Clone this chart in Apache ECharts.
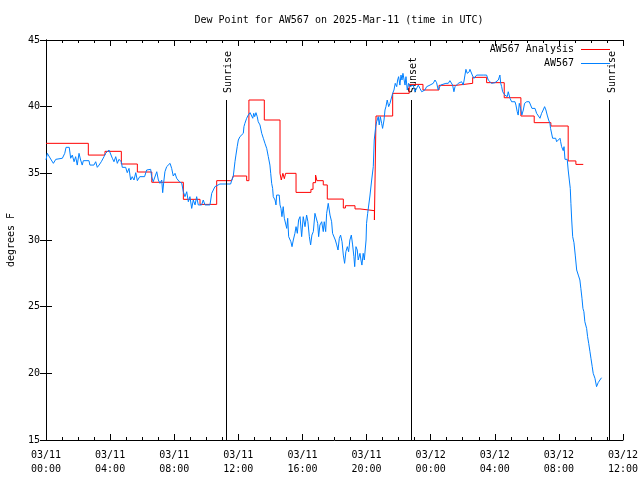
<!DOCTYPE html>
<html><head><meta charset="utf-8">
<script src="https://cdn.jsdelivr.net/npm/echarts@6/dist/echarts.min.js"></script>
<style>html,body{margin:0;padding:0;background:#fff}#c{width:640px;height:480px}</style>
</head><body><div id="c"></div>
<script>
const titleText = 'Dew Point for AW567 on 2025-Mar-11 (time in UTC)';
const tickDates = ['03/11','03/11','03/11','03/11','03/11','03/11','03/12','03/12','03/12','03/12'];
const tickTimes = ['00:00','04:00','08:00','12:00','16:00','20:00','00:00','04:00','08:00','12:00'];
const yTicks = [15,20,25,30,35,40,45];

// hours since 2025-03-11 00:00 UTC
const analysisHours = [0.00,2.64,3.68,4.70,5.70,6.60,8.57,9.61,10.65,11.58,11.68,12.52,12.66,13.62,14.60,14.68,14.78,14.87,14.95,15.60,16.53,16.66,16.82,16.90,17.30,17.55,18.55,18.68,19.28,19.59,20.49,20.59,21.63,22.66,23.52,24.52,25.58,26.62,27.49,28.59,29.63,30.46,31.50,32.58,33.06,33.52];
const analysisValues = [37.25,36.37,36.65,35.7,35.1,34.33,33.05,32.67,34.45,34.6,34.8,34.45,40.5,39.0,35.0,34.5,35.0,34.6,35.0,33.57,33.8,34.3,34.87,34.45,34.13,33.07,32.4,32.57,32.33,32.2,31.5,39.3,41.0,41.67,41.25,41.6,41.75,42.2,41.8,40.67,39.3,38.8,38.55,35.93,35.67,35.67];

const obsHours = [0.00,0.08,0.19,0.33,0.46,0.61,0.70,1.02,1.17,1.25,1.45,1.54,1.64,1.75,1.85,1.95,2.06,2.16,2.26,2.33,2.68,2.74,2.99,3.10,3.20,3.31,3.45,3.62,3.72,3.82,3.93,4.04,4.14,4.24,4.35,4.45,4.55,4.70,4.76,4.97,5.07,5.18,5.28,5.38,5.49,5.60,5.70,5.85,6.15,
6.28,6.53,6.59,6.69,6.91,7.01,7.11,7.22,7.28,7.36,7.42,7.53,7.63,7.74,7.84,7.94,8.05,8.15,8.32,8.47,8.57,8.67,8.78,8.88,8.98,9.09,9.19,9.30,9.40,9.50,9.71,9.81,9.92,10.23,10.34,10.44,10.54,10.65,10.85,11.52,11.58,11.68,11.73,11.79,11.85,11.93,12.00,12.10,12.21,12.31,12.35,12.41,12.52,12.62,12.73,12.83,12.90,12.96,13.02,13.10,13.18,13.24,13.35,13.46,13.56,13.66,13.77,13.87,13.97,14.02,14.08,14.14,14.18,14.29,14.35,14.39,14.55,14.60,14.66,14.72,14.80,14.87,14.95,15.02,15.08,15.14,15.22,15.28,15.35,15.43,15.53,15.60,15.68,15.76,15.85,15.95,16.05,16.16,16.26,16.34,16.43,16.51,16.59,16.68,16.78,16.89,16.95,17.01,17.09,17.20,17.30,17.36,17.45,17.51,17.61,17.72,17.82,17.88,17.97,18.05,18.14,18.22,18.30,18.38,18.47,18.55,18.63,18.71,18.80,18.88,18.96,19.05,19.13,19.21,19.26,19.34,19.42,19.48,19.59,19.65,19.71,19.79,19.86,19.92,19.97,20.00,20.07,20.13,20.21,20.32,20.42,20.48,20.57,20.63,20.73,20.79,20.86,20.94,21.00,21.09,21.15,21.21,21.29,21.38,21.46,21.57,21.63,21.71,21.79,21.88,21.94,22.00,22.08,22.15,22.21,22.27,22.33,22.40,22.46,22.54,22.62,22.71,22.81,22.91,23.02,23.12,23.23,23.33,23.44,23.64,23.75,23.96,24.16,24.27,24.37,24.47,24.54,24.62,24.95,25.10,25.20,25.31,25.37,25.45,25.52,25.62,25.72,25.83,25.93,26.03,26.09,26.14,26.20,26.28,26.41,26.45,26.56,26.62,26.70,26.76,26.87,27.28,27.49,27.59,27.70,27.80,27.90,28.01,28.12,28.22,28.32,28.37,28.43,28.49,28.57,28.63,28.69,28.78,28.84,28.90,28.95,29.05,29.15,29.26,29.32,29.40,29.46,29.53,29.61,29.69,29.78,29.86,29.99,30.15,30.24,30.32,30.40,30.51,30.61,30.71,30.82,30.92,31.02,31.11,31.19,31.27,31.36,31.44,31.48,31.55,31.61,31.80,31.86,31.96,32.07,32.11,32.17,32.24,32.27,32.32,32.38,32.52,32.58,32.65,32.71,32.75,32.80,32.86,32.94,33.02,33.11,33.21,33.31,33.37,33.44,33.50,33.56,33.62,33.73,33.79,33.86,33.94,34.00,34.08,34.14,34.25,34.35,34.45,34.56,34.66];
const obsValues = [36.0,36.5,36.62,36.0,35.75,36.05,36.13,36.13,36.5,36.95,36.95,36.13,36.37,35.87,36.25,35.62,36.5,36.0,35.62,35.95,35.95,35.62,35.62,35.87,35.45,35.62,35.87,36.25,36.5,36.62,36.75,36.87,36.13,35.87,36.25,35.75,36.05,35.87,35.45,35.45,35.05,35.37,34.5,34.75,34.5,35.05,34.45,34.75,34.75,
35.25,35.3,34.75,34.37,35.12,34.5,34.25,34.5,33.55,34.5,35.12,35.5,35.62,35.75,35.37,34.8,35.0,34.63,34.37,34.25,33.62,33.25,33.62,32.87,33.25,32.37,33.0,32.63,33.25,32.63,32.63,33.0,32.63,32.63,33.5,33.62,34.0,34.13,34.2,34.2,34.45,34.75,35.25,35.87,36.37,37.0,37.5,37.75,37.87,38.0,38.5,38.75,39.13,39.37,39.55,39.55,39.13,39.5,39.25,39.55,39.25,38.87,38.63,38.0,37.63,37.25,36.87,36.25,35.62,35.0,34.25,33.87,33.25,33.0,32.63,33.37,33.37,32.63,32.37,31.75,32.5,31.63,31.5,30.87,31.63,30.25,30.25,29.87,29.5,30.0,30.5,31.0,30.5,31.5,31.75,30.25,31.75,31.0,31.87,31.37,30.25,29.63,30.37,30.63,32.0,32.12,31.25,30.25,31.12,31.37,30.63,31.37,30.63,32.0,32.75,31.87,31.37,30.5,30.63,30.0,29.63,29.25,30.12,30.37,29.87,28.87,28.25,29.12,29.5,29.12,30.0,30.37,29.63,28.75,28.0,29.5,29.25,28.5,29.0,28.5,28.12,29.0,28.5,28.5,30.0,31.25,32.0,32.12,33.3,34.5,35.5,37.5,38.5,38.87,39.25,38.63,39.25,38.75,38.37,39.0,39.75,40.0,40.5,40.0,40.25,40.12,41.0,41.25,41.75,41.5,42.0,42.25,41.62,42.37,42.0,42.5,42.62,41.62,42.25,41.25,41.75,41.5,41.37,41.62,41.12,41.12,41.62,41.37,41.12,41.25,41.5,41.62,41.75,42.0,41.8,41.25,41.3,41.62,41.75,41.75,41.95,42.0,41.62,41.12,41.5,41.62,41.75,41.62,41.87,41.62,42.0,42.37,42.8,42.5,42.62,42.8,42.75,42.3,42.12,42.25,42.37,42.37,42.37,42.0,41.87,41.75,41.7,41.8,41.87,42.0,42.37,41.75,41.5,41.12,41.12,40.87,41.0,40.75,41.12,41.0,40.63,40.37,40.25,40.37,40.12,39.62,39.37,40.25,39.87,39.37,39.75,40.25,40.37,40.37,40.25,39.87,39.75,39.87,39.5,39.37,39.13,39.5,39.75,40.0,39.75,39.37,39.0,38.75,38.37,38.25,37.63,37.63,37.37,37.5,37.63,37.37,37.0,36.87,36.7,37.0,36.05,36.05,35.25,34.5,33.87,32.75,31.5,30.25,29.8,28.87,27.75,27.37,27.0,26.37,25.63,24.87,24.62,23.87,23.37,22.75,22.25,21.62,21.13,20.5,20.0,19.63,19.0,19.3,19.5,19.67];

const eventHours = [11.23, 22.77, 35.16];
const eventNames = ['Sunrise', 'Sunset', 'Sunrise'];
const eventTop = 40.5;

const FONT = 'DejaVu Sans Mono';
const RED = '#ff0000', BLUE = '#0080ff';
const chart = echarts.init(document.getElementById('c'), null, {renderer:'canvas'});

const zip = (a,b) => a.map((v,i)=>[v,b[i]]);
const axisBase = {
  type:'value', min:0, max:36, interval:4,
  axisLine:{show:true, lineStyle:{color:'#000', width:1}},
  axisTick:{show:true, inside:true, length:6, lineStyle:{color:'#000'}},
  minorTick:{show:true, splitNumber:4, length:3, lineStyle:{color:'#000'}},
  splitLine:{show:false}, minorSplitLine:{show:false}
};
const yBase = {
  type:'value', min:15, max:45, interval:5,
  axisLine:{show:true, lineStyle:{color:'#000', width:1}},
  axisTick:{show:true, inside:true, length:6, lineStyle:{color:'#000'}},
  splitLine:{show:false}
};
// legend sample lines (pixel positions, gnuplot-style key in the top right)
const keySample = y => [{x:581, y:y}, {x:610, y:y}];

chart.setOption({
  animation:false,
  backgroundColor:'#fff',
  title:{text:titleText, left:334, textAlign:'center', top:10,
    textStyle:{fontFamily:FONT, fontSize:10, fontWeight:'normal', color:'#000'}},
  grid:{left:46, right:17, top:40, bottom:40, containLabel:false, outerBoundsMode:'none'},
  xAxis:[
    Object.assign({}, axisBase, {position:'bottom',
      axisLabel:{show:true, margin:8, fontFamily:FONT, fontSize:10, color:'#000', lineHeight:14,
        formatter:v=>{const i=Math.round(v/4); return tickDates[i]+'\n'+tickTimes[i];}}}),
    Object.assign({}, axisBase, {position:'top', axisLabel:{show:false}})
  ],
  yAxis:[
    Object.assign({}, yBase, {position:'left', name:'degrees F', nameLocation:'middle', nameRotate:90, nameGap:30,
      nameTextStyle:{fontFamily:FONT, fontSize:10, color:'#000'},
      axisLabel:{show:true, margin:6, fontFamily:FONT, fontSize:10, color:'#000',
        formatter:v=>String(yTicks[yTicks.indexOf(v)])}}),
    Object.assign({}, yBase, {position:'right', axisLabel:{show:false}})
  ],
  series:[
    {name:'AW567 Analysis', type:'line', step:'end', data:zip(analysisHours, analysisValues),
      showSymbol:false, symbol:'none', lineStyle:{color:RED, width:1}, itemStyle:{color:RED},
      markLine:{silent:true, symbol:['none','none'], label:{show:false},
        lineStyle:{color:RED, width:1, type:'solid'},
        data:eventHours.map(h=>[{coord:[h,eventTop], lineStyle:{color:'#000', width:1, type:'solid'}},{coord:[h,15]}])
          .concat([keySample(49.5)])}},
    {name:'AW567', type:'line', data:zip(obsHours, obsValues),
      showSymbol:false, symbol:'none', lineStyle:{color:BLUE, width:1}, itemStyle:{color:BLUE},
      markLine:{silent:true, symbol:['none','none'], label:{show:false},
        lineStyle:{color:BLUE, width:1, type:'solid'},
        data:[keySample(63.5)]}}
  ]
});

const g = [];
eventHours.forEach((h,i)=>{
  const p = chart.convertToPixel({xAxisIndex:0, yAxisIndex:0}, [h, eventTop]);
  g.push({type:'text', id:'ev'+i, x:Math.round(p[0])+2, y:Math.round(p[1])-7, rotation:Math.PI/2,
    style:{text:eventNames[i], fill:'#000', font:'10px '+FONT, textAlign:'left', textVerticalAlign:'middle'}});
});
const legendTexts = [['AW567 Analysis',49],['AW567',63]];
legendTexts.forEach(([t,y],i)=>{
  g.push({type:'text', id:'lt'+i, x:574, y:y, style:{text:t, fill:'#000', font:'10px '+FONT, textAlign:'right', textVerticalAlign:'middle'}});
});
chart.setOption({graphic:g});
</script></body></html>
